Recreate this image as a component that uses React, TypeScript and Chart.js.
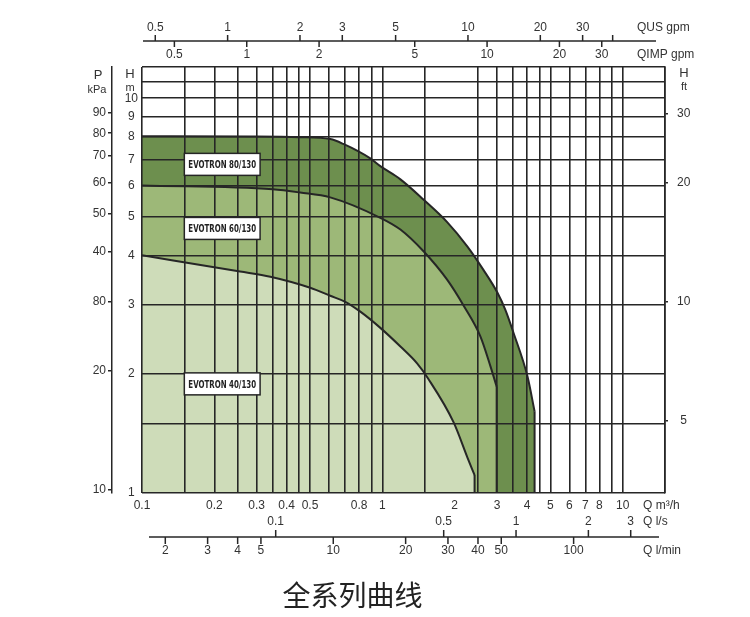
import React, { useEffect, useRef } from 'react';
import { Chart, registerables } from 'chart.js';

Chart.register(...registerables);

// ---------- data ----------
// flow axis (m³/h): grid lines, labelled values, grid lines hidden
const X_GRID = [0.1, 0.15, 0.2, 0.25, 0.3, 0.35, 0.4, 0.45, 0.5, 0.6, 0.7, 0.8, 0.9, 1, 1.5, 2, 2.5, 3, 3.5, 4, 4.5, 5, 6, 7, 8, 9, 10, 15];
const X_LABELS = [0.1, 0.2, 0.3, 0.4, 0.5, 0.8, 1, 2, 3, 4, 5, 6, 7, 8, 10];
const X_NO_GRID = [2];
// head axis (m)
const Y_GRID = [1, 1.5, 2, 3, 4, 5, 6, 7, 8, 9, 10, 11, 12];
const Y_LABELS = [1, 2, 3, 4, 5, 6, 7, 8, 9, 10];
// pressure axis (kPa)
const KPA_TICKS = [10, 20, 30, 40, 50, 60, 70, 80, 90];
const KPA_TEXT = ['10', '20', '80', '40', '50', '60', '70', '80', '90'];
// head axis (ft)
const FT_TICKS = [5, 10, 20, 30];
// secondary flow axes
const US_GPM_TICKS = [0.5, 1, 2, 3, 5, 10, 20, 30, 40];
const US_GPM_TEXT = ['0.5', '1', '2', '3', '5', '10', '20', '30', ''];
const IMP_GPM_TICKS = [0.5, 1, 2, 5, 10, 20, 30];
const LS_TICKS = [0.1, 0.5, 1, 2, 3];
const LMIN_TICKS = [2, 3, 4, 5, 10, 20, 30, 40, 50, 100];

// pump curves: Q (m³/h) and H (m)
const SERIES_NAMES = ['EVOTRON 80/130', 'EVOTRON 60/130', 'EVOTRON 40/130'];
const Q_80 = [0.1, 0.282, 0.451, 0.607, 0.688, 0.891, 0.981, 1.189, 1.482, 1.865, 2.26, 2.63, 3.01, 3.25, 3.51, 4.02, 4.3];
const H_80 = [8.01, 8.0, 7.97, 7.88, 7.66, 7.04, 6.73, 6.23, 5.54, 4.85, 4.21, 3.68, 3.22, 2.91, 2.55, 1.97, 1.61];
const Q_60 = [0.1, 0.35, 0.455, 0.607, 0.981, 1.189, 1.487, 1.86, 2.18, 2.56, 2.82, 2.99];
const H_60 = [6.01, 5.88, 5.77, 5.61, 4.98, 4.65, 4.09, 3.47, 2.98, 2.49, 2.09, 1.86];
const Q_40 = [0.1, 0.256, 0.342, 0.501, 0.607, 0.701, 0.81, 0.981, 1.189, 1.395, 1.55, 1.98, 2.26, 2.42];
const H_40 = [4.0, 3.64, 3.53, 3.31, 3.16, 3.05, 2.88, 2.62, 2.35, 2.13, 1.95, 1.51, 1.23, 1.11];

// unit conversions (per m³/h, per m)
const US_GPM_PER_M3H = 4.4029;
const IMP_GPM_PER_M3H = 3.6662;
const LS_PER_M3H = 1 / 3.6;
const LMIN_PER_M3H = 16.0;
const KPA_PER_M = 9.81;
const FT_PER_M = 3.28084;

// ---------- styles ----------
const INK = '#262626';
const TEXT = '#333333';
const DARK = '#6d8f4e';
const MID = '#9db878';
const LIGHT = '#cedcb9';
const FONT = '"Liberation Sans", Arial, Helvetica, sans-serif';

const pts = (q: number[], h: number[]) => q.map((v, i) => ({ x: v, y: h[i] }));
const edge = (q: number[], h: number[]) => [
  { x: q[q.length - 1], y: h[h.length - 1] },
  { x: q[q.length - 1], y: 1 },
];

const LABEL_BOXES = [
  { text: SERIES_NAMES[0], q0: 0.15, q1: 0.31, h: 6.8 },
  { text: SERIES_NAMES[1], q0: 0.15, q1: 0.31, h: 4.68 },
  { text: SERIES_NAMES[2], q0: 0.15, q1: 0.31, h: 1.89 },
];

const extraPlugin = {
  id: 'extraAxes',
  afterDraw(chart: any) {
    const { ctx, chartArea: a, scales } = chart;
    const xs = scales.x;
    const ys = scales.y;
    const px = (m3h: number) => xs.getPixelForValue(m3h);
    const line = (x1: number, y1: number, x2: number, y2: number) => {
      ctx.beginPath();
      ctx.moveTo(x1, y1);
      ctx.lineTo(x2, y2);
      ctx.stroke();
    };
    ctx.save();
    ctx.strokeStyle = INK;
    ctx.fillStyle = TEXT;
    ctx.lineWidth = 1.5;
    ctx.font = `12px ${FONT}`;
    ctx.textAlign = 'center';
    ctx.textBaseline = 'middle';

    // top axes (US gpm above, IMP gpm below)
    const yT = a.top - 26;
    line(a.left + 1, yT, a.right - 9, yT);
    US_GPM_TICKS.forEach((v, i) => {
      const x = px(v / US_GPM_PER_M3H);
      line(x, yT, x, yT - 6);
      ctx.fillText(US_GPM_TEXT[i], x, yT - 13);
    });
    IMP_GPM_TICKS.forEach((v) => {
      const x = px(v / IMP_GPM_PER_M3H);
      line(x, yT, x, yT + 6);
      ctx.fillText(String(v), x, yT + 14);
    });

    // bottom axes (l/s above, l/min below)
    const yB = a.bottom + 44;
    line(a.left + 7, yB, a.right - 6, yB);
    LS_TICKS.forEach((v) => {
      const x = px(v / LS_PER_M3H);
      line(x, yB, x, yB - 7);
      ctx.fillText(String(v), x, yB - 15);
    });
    LMIN_TICKS.forEach((v) => {
      const x = px(v / LMIN_PER_M3H);
      line(x, yB, x, yB + 7);
      ctx.fillText(String(v), x, yB + 14);
    });

    // axis titles
    ctx.textAlign = 'left';
    ctx.fillText('QUS gpm', a.right - 28, yT - 13);
    ctx.fillText('QIMP gpm', a.right - 28, yT + 14);
    ctx.fillText('Q m³/h', a.right - 22, a.bottom + 13);
    ctx.fillText('Q l/s', a.right - 22, yB - 15);
    ctx.fillText('Q l/min', a.right - 22, yB + 14);
    ctx.textAlign = 'center';
    const kp = scales.kpa;
    ctx.font = `13px ${FONT}`;
    ctx.fillText('P', kp.right - 14, a.top + 8);
    ctx.fillText('H', (ys.left + ys.right) / 2 + 3, a.top + 7);
    ctx.fillText('H', a.right + 19, a.top + 6);
    ctx.font = `11px ${FONT}`;
    ctx.fillText('kPa', kp.right - 15, a.top + 23);
    ctx.fillText('m', (ys.left + ys.right) / 2 + 3, a.top + 21);
    ctx.fillText('ft', a.right + 19, a.top + 20);

    // series label boxes
    LABEL_BOXES.forEach((b) => {
      const x0 = px(b.q0);
      const x1 = px(b.q1);
      const cy = ys.getPixelForValue(b.h);
      ctx.fillStyle = '#ffffff';
      ctx.fillRect(x0, cy - 11, x1 - x0, 22);
      ctx.strokeStyle = INK;
      ctx.lineWidth = 1.5;
      ctx.strokeRect(x0, cy - 11, x1 - x0, 22);
      ctx.fillStyle = '#222';
      ctx.font = `bold 11px "Liberation Sans Narrow", "DejaVu Sans Condensed", ${FONT}`;
      const w = ctx.measureText(b.text).width;
      const target = x1 - x0 - 8;
      ctx.save();
      ctx.translate((x0 + x1) / 2, cy + 1);
      if (w > target) ctx.scale(target / w, 1);
      ctx.textAlign = 'center';
      ctx.fillText(b.text, 0, 0);
      ctx.restore();
    });
    ctx.restore();
  },
};

export default function App() {
  const ref = useRef<HTMLCanvasElement>(null);
  useEffect(() => {
    document.body.style.margin = '0';
    Chart.defaults.font.family = FONT;
    Chart.defaults.font.size = 12;
    Chart.defaults.color = TEXT;

    const lineDs = (name: string, q: number[], h: number[], color: string, order: number) => ({
      label: name,
      data: pts(q, h),
      borderColor: INK,
      borderWidth: 2,
      backgroundColor: color,
      fill: 'start',
      pointRadius: 0,
      cubicInterpolationMode: 'monotone',
      order,
    });
    const edgeDs = (q: number[], h: number[]) => ({
      label: '',
      data: edge(q, h),
      borderColor: INK,
      borderWidth: 2,
      fill: false,
      pointRadius: 0,
      order: 0,
    });

    const chart = new Chart(ref.current!, {
      type: 'line',
      data: {
        datasets: [
          lineDs(SERIES_NAMES[0], Q_80, H_80, DARK, 3),
          lineDs(SERIES_NAMES[1], Q_60, H_60, MID, 2),
          lineDs(SERIES_NAMES[2], Q_40, H_40, LIGHT, 1),
          edgeDs(Q_80, H_80),
          edgeDs(Q_60, H_60),
          edgeDs(Q_40, H_40),
        ] as any,
      },
      options: {
        responsive: false,
        animation: false,
        events: [],
        layout: { padding: { left: 0, right: 45, top: 67, bottom: 5.2 } },
        plugins: {
          legend: { display: false },
          tooltip: { enabled: false },
          title: {
            display: true,
            text: '全系列曲线',
            position: 'bottom',
            color: '#222',
            font: { family: '"Noto Sans CJK SC", "Noto Sans", sans-serif', size: 28, weight: 'normal' },
            padding: { top: 65.2, bottom: 0 },
          },
        },
        scales: {
          x: {
            type: 'logarithmic',
            position: 'bottom',
            min: 0.1,
            max: 15,
            afterBuildTicks: (s: any) => {
              s.ticks = X_GRID.map((v) => ({ value: v }));
            },
            afterFit: (s: any) => {
              s.height = 20;
            },
            ticks: {
              autoSkip: false,
              maxRotation: 0,
              minRotation: 0,
              padding: 5,
              color: TEXT,
              font: { size: 12 },
              callback: (v: any) => (X_LABELS.includes(Number(v)) ? String(v) : ''),
            },
            grid: {
              z: 1,
              drawTicks: false,
              lineWidth: 1.6,
              color: (c: any) => (c.tick && X_NO_GRID.includes(c.tick.value) ? 'rgba(0,0,0,0)' : INK),
            },
            border: { display: false },
          },
          y: {
            type: 'logarithmic',
            position: 'left',
            weight: 0,
            min: 1,
            max: 12,
            afterBuildTicks: (s: any) => {
              s.ticks = Y_GRID.map((v) => ({ value: v }));
            },
            afterFit: (s: any) => {
              s.width = 30;
            },
            ticks: {
              autoSkip: false,
              padding: 4,
              crossAlign: 'center',
              color: TEXT,
              font: { size: 12 },
              callback: (v: any) => (Y_LABELS.includes(Number(v)) ? String(v) : ''),
            },
            grid: { z: 1, drawTicks: false, lineWidth: 1.6, color: INK },
            border: { display: false },
          },
          kpa: {
            type: 'logarithmic',
            axis: 'y',
            position: 'left',
            weight: 1,
            min: 1 * KPA_PER_M,
            max: 12 * KPA_PER_M,
            afterBuildTicks: (s: any) => {
              s.ticks = KPA_TICKS.map((v) => ({ value: v }));
            },
            afterFit: (s: any) => {
              s.width = 112;
            },
            ticks: {
              autoSkip: false,
              padding: 2,
              color: TEXT,
              font: { size: 12 },
              callback: (_v: any, i: number) => KPA_TEXT[i],
            },
            grid: { drawOnChartArea: false, drawTicks: true, tickLength: 4, lineWidth: 1.5, color: INK },
            border: { display: true, color: INK, width: 1.5 },
          },
          ft: {
            type: 'logarithmic',
            axis: 'y',
            position: 'right',
            min: 1 * FT_PER_M,
            max: 12 * FT_PER_M,
            afterBuildTicks: (s: any) => {
              s.ticks = FT_TICKS.map((v) => ({ value: v }));
            },
            afterFit: (s: any) => {
              s.width = 40;
            },
            ticks: {
              autoSkip: false,
              padding: 9,
              crossAlign: 'center',
              color: TEXT,
              font: { size: 12 },
              callback: (v: any) => String(v),
            },
            grid: { drawOnChartArea: false, drawTicks: true, tickLength: 3, lineWidth: 1.5, color: INK },
            border: { display: true, z: 1, color: INK, width: 1.6 },
          },
        },
      } as any,
      plugins: [extraPlugin],
    });
    return () => chart.destroy();
  }, []);
  return (
    <div style={{ width: 750, height: 617 }}>
      <canvas ref={ref} width={750} height={617} style={{ display: 'block' }} />
    </div>
  );
}
